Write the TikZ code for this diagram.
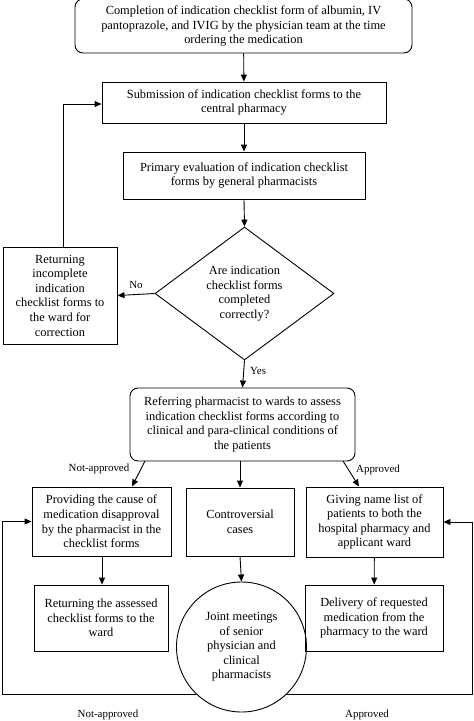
\documentclass[tikz,border=0pt]{standalone}
\usepackage{fontspec}
\setmainfont{Liberation Serif}
\usetikzlibrary{arrows.meta,shapes.geometric}
\begin{document}
\begin{tikzpicture}[x=1pt,y=-1pt,
  every node/.style={font=\fontsize{12.4}{14.6}\selectfont, align=center, inner sep=0pt},
  box/.style={draw, line width=0.9pt, rectangle},
  rbox/.style={box, rounded corners=8pt},
  lbl/.style={font=\fontsize{10.9}{12}\selectfont},
  arr/.style={line width=0.9pt, -{Triangle[length=7pt,width=6pt]}},
  ln/.style={line width=0.9pt}]
\useasboundingbox (0,0) rectangle (474,721);
\node[rbox, minimum width=337pt, minimum height=54pt] (top) at (243.5,26)
  {Completion of indication checklist form of albumin, IV\\pantoprazole, and IVIG by the physician team at the time\\ordering the medication};
\node[box, minimum width=284pt, minimum height=41pt] (sub) at (244,102.5)
  {Submission of indication checklist forms to the\\central pharmacy};
\node[box, minimum width=242pt, minimum height=47pt] (prim) at (244,175.5)
  {Primary evaluation of indication checklist\\forms by general pharmacists};
\node[box, diamond, aspect=1.35, minimum width=179pt, minimum height=133pt] (dia) at (244.5,293.5)
  {Are indication\\checklist forms\\completed\\correctly?};
\node[box, minimum width=114pt, minimum height=97pt] (ret) at (60,295.5)
  {Returning\\incomplete\\indication\\checklist forms to\\the ward for\\correction};
\node[rbox, minimum width=225pt, minimum height=73pt] (ref) at (242.5,424.5)
  {Referring pharmacist to wards to assess\\indication checklist forms according to\\clinical and para-clinical conditions of\\the patients};
\node[box, minimum width=139pt, minimum height=69pt] (bL) at (101.5,521.5)
  {Providing the cause of\\medication disapproval\\by the pharmacist in the\\checklist forms};
\node[box, minimum width=108pt, minimum height=68pt] (bC) at (240,522)
  {Controversial\\cases};
\node[box, minimum width=137pt, minimum height=70pt] (bR) at (374.5,522)
  {Giving name list of\\patients to both the\\hospital pharmacy and\\applicant ward};
\node[box, minimum width=134pt, minimum height=66pt] (bL2) at (101,618)
  {Returning the assessed\\checklist forms to the\\ward};
\node[box, circle, minimum size=130pt] (circ) at (241.5,647)
  {Joint meetings\\of senior\\physician and\\clinical\\pharmacists};
\node[box, minimum width=138pt, minimum height=66pt] (bR2) at (374,618)
  {Delivery of requested\\medication from the\\pharmacy to the ward};
% arrows
\draw[arr] (top) -- (sub);
\draw[arr] (sub) -- (prim);
\draw[arr] (prim.south) -- (dia.north);
\draw[arr] (dia.west) -- (ret.east) node[lbl, pos=0.5, above=5pt] (no) {No};
\coordinate (lp) at (63,104);
\draw[arr] (ret.north -| lp) -- (lp) -- (sub.west |- lp);
\draw[arr] (dia.south) -- (ref.north) node[lbl, pos=0.4, right=6pt] (yes) {Yes};
\coordinate (lA) at (145,461);
\coordinate (rA) at (343,461);
\draw[arr] (lA) -- (132,486.5) coordinate (lB);
\draw[arr] (rA) -- (359,486.5) coordinate (rB);
\node[lbl] (na1) at (99,469) {Not-approved};
\node[lbl] (ap1) at (378,470) {Approved};
\draw[arr] (bC.north |- ref.south) -- (bC.north);
\draw[arr] (bL.south -| 102,0) -- (bL2.north -| 102,0);
\draw[arr] (bC.south) -- (circ.north);
\draw[arr] (bR) -- (bR2);
% feedback
\coordinate (bl) at (2,694);
\coordinate (br) at (472.5,694);
\draw[arr] (circ.226.3) -- (circ.226.3 -| bl) -- (bl |- bL.west) -- (bL.west);
\draw[arr] (circ.313.7) -- (circ.313.7 -| br) -- (br |- bR.east) -- (bR.east);
\node[lbl] (na2) at (108,715) {Not-approved};
\node[lbl] (ap2) at (367,715) {Approved};
\end{tikzpicture}
\end{document}
